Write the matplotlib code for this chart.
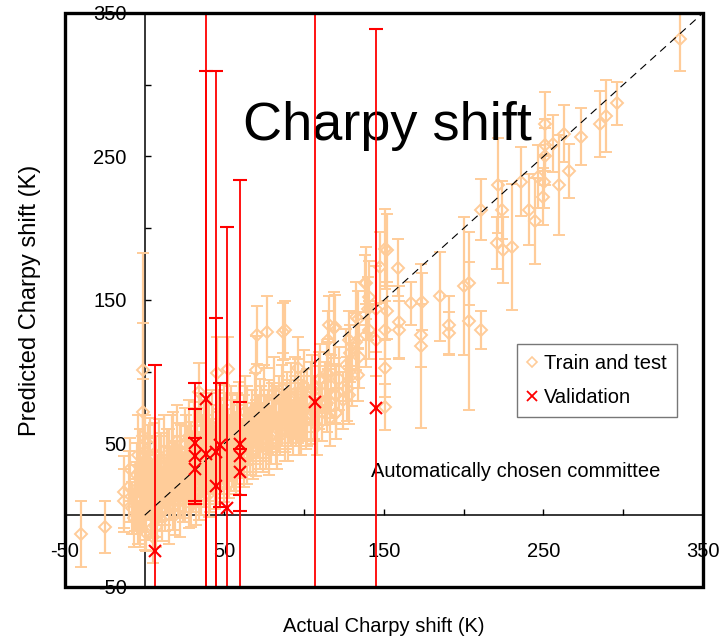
"""
Predicted vs actual Charpy shift, committee model.
"""

import matplotlib.pyplot as plt
from matplotlib.lines import Line2D
from matplotlib.patches import Rectangle

FONT = ['Liberation Sans', 'DejaVu Sans']

PEACH = '#FFCC99'

# train and test points (actual, predicted, error bar half-length), all in K
train_x = [
    -40, -25, -13, -13, -6, -1, -1, -1, 3.6, 34, 45, 52, 69.5, 70.5, 76.6, 87,
    -8, -6, -5, -4, -3, -2, -1, 0, 0, 1, 2, 3, 4, 5, 6, 6, 7, 8, 9, 10,
    11, 12, 12, 13, 14, 15, 16, 17, 18, 18, 19, 20, 21, 22, 23, 24, 25, 25, 26, 27,
    28, 28, 29, 30, 30,
    31, 32, 33, 34, 35, 35, 36, 37, 38, 39, 40, 40, 41, 42, 43, 44, 45, 46, 47, 48,
    49, 50, 50, 51, 52, 53, 54, 55, 56, 57, 58, 59, 60, 60,
    61, 62, 63, 64, 65, 66, 67, 68, 69, 70, 71, 72, 73, 74, 75, 76, 77, 78, 79, 80,
    81, 82, 83, 84, 85, 86, 87, 88, 89, 90, 91, 92, 93, 94, 95,
    96, 97, 98, 99, 100, 101, 102, 104, 105, 106, 108, 109, 110, 111, 113, 114,
    116, 117, 119, 120, 122, 124, 127, 130,
    -10, -9, -7, -5, -4, -3, -2, -1, 0, 1, 2, 3, 4, 5, 6, 7, 8, 9, 10, 11,
    12, 13, 14, 15, 16, 17, 18, 19, 20, 21, 22, 23, 24, 25, 26, 27, 28, 29, 30, 31,
    32, 33, 34, 35, 36, 37, 38, 39, 40, 41, 42, 43, 44, 45, 46, 47, 48, 49, 50, 51,
    52, 53, 54, 55, 56, 57, 58, 59, 62, 64, 66, 68, 70, 72, 74, 76, 78, 80, 82, 84,
    86, 88, 90, 92, 94, 96, 98, 100, 102, 104,
    150.7, 119.8, 119.8, 104, 138.6, 129, 114.5, 128,
    88, 96.3, 109.3, 115, 115, 115.6, 119.3, 118.7, 126, 128, 133.4, 134.4, 132.3,
    132.7, 133.4, 138, 140.3, 139.7, 139, 140.7, 145, 145, 147.4, 150.7, 150.7,
    151.6, 150.7, 152, 159.5, 159.5, 159, 167, 173, 173.4, 174, 185, 191, 191,
    200, 203, 203.5, 210.6, 211, 220.7, 221.7, 224, 224.9, 230, 236, 240.8, 244.8,
    246.4, 249.6, 250.6, 251, 251, 251, 256, 260, 266.3, 263, 273.7, 285.6, 289,
    296, 335.8,
]
train_y = [
    -13, -8, 16, 10, 7, 101, 72, 55, 48, 86, 99, 102, 101, 125.5, 127.8, 128,
    5, 15, 28, -5, 35, 20, 8, 45, -12, 25, 12, 32, 2, 18, 40, 28, -8, 22, 10, 35,
    15, 45, 28, 5, 20, 38, 12, 30, 48, 22, 0, 35, 15, 42, 28, 10, 50, 32, 20, 40,
    5, 28, 45, 18, 36,
    55, 25, 42, 12, 33, 60, 48, 22, 38, 55, 28, 15, 45, 62, 35, 22, 50, 40, 30, 58,
    45, 25, 66, 38, 52, 30, 44, 60, 35, 50, 42, 68, 55, 38,
    47, 62, 72, 40, 55, 48, 65, 58, 75, 45, 62, 52, 68, 58, 80, 50, 65, 72, 56, 62,
    85, 68, 50, 75, 62, 70, 88, 58, 78, 66, 72, 82, 60, 75, 68,
    85, 62, 78, 72, 90, 66, 80, 70, 88, 75, 62, 82, 95, 72, 85, 78,
    68, 90, 84, 71, 95, 80, 88, 98,
    20, 32, -2, 12, 42, 0, 15, 30, 5, -5, 38, 22, 10, -15, 15, 30, 5, 42, 18, 2,
    30, 15, 35, 0, 25, 45, 10, 30, 52, 25, 5, 38, 20, 15, 45, 30, 55, 12, 28, 40,
    15, 50, 28, 20, 40, 55, 30, 45, 60, 22, 38, 52, 40, 28, 62, 45, 35, 52, 40, 60,
    32, 48, 65, 42, 55, 35, 60, 48, 40, 65, 52, 45, 58, 70, 50, 62, 48, 70, 58, 66,
    80, 66, 58, 70, 85, 72, 62, 75, 68, 85,
    75.5, 83.7, 70.9, 69.7, 125.5, 112.8, 98.8, 83.7,
    129, 102.3, 94, 122, 97.6, 132.5, 131.3, 130.4, 104.6, 122, 97.6, 110.4, 120.9,
    137.8, 136.5, 161.6, 129, 144, 162, 152.2, 144, 122, 172.7, 185.3, 129,
    142.5, 102.3, 184.8, 134.8, 129, 172.5, 147.6, 117.8, 125.5, 148.8, 152.7, 132.5, 126.7,
    160, 135.5, 161.6, 129, 213, 189.5, 230, 212.7, 185, 187, 232.5, 213, 205,
    236, 222, 232, 272.7, 258, 250, 259, 230, 240, 266, 263.8, 272.7, 278,
    287, 331.7,
]
train_err = [
    23, 18, 25, 22, 18, 82, 62, 40, 20, 20, 25, 22, 24, 20, 25, 20,
    18, 20, 22, 15, 25, 18, 20, 25, 12, 20, 15, 22, 18, 20, 24, 16, 14, 20, 15, 22,
    18, 25, 20, 16, 18, 22, 15, 20, 24, 18, 14, 20, 16, 22, 18, 15, 25, 20, 18, 22,
    14, 18, 20, 16, 22,
    24, 18, 20, 15, 20, 25, 22, 16, 20, 24, 18, 16, 22, 25, 20, 18, 22, 20, 18, 24,
    20, 16, 25, 20, 22, 18, 20, 24, 18, 22, 20, 25, 22, 18,
    20, 22, 25, 18, 20, 20, 22, 20, 24, 18, 22, 20, 22, 20, 25, 18, 22, 22, 20, 20,
    25, 22, 18, 22, 20, 22, 25, 20, 22, 20, 22, 24, 18, 22, 20,
    24, 20, 22, 20, 25, 20, 22, 18, 24, 22, 20, 22, 24, 20, 22, 20,
    20, 22, 20, 18, 22, 20, 22, 22,
    25, 22, 20, 25, 28, 22, 25, 25, 22, 20, 25, 22, 25, 18, 22, 25, 20, 25, 22, 20,
    25, 22, 25, 20, 22, 25, 20, 22, 25, 22, 20, 25, 22, 20, 25, 22, 25, 20, 22, 25,
    22, 25, 22, 20, 25, 25, 22, 25, 25, 20, 22, 25, 22, 20, 25, 22, 20, 25, 22, 25,
    20, 22, 25, 22, 25, 20, 25, 22, 20, 25, 22, 20, 22, 25, 20, 22, 20, 22, 22, 22,
    25, 22, 20, 22, 25, 22, 20, 22, 20, 22,
    16, 20, 18, 20, 22, 20, 22, 20,
    20, 22, 20, 20, 25, 20, 22, 25, 25, 20, 18, 22, 20,
    25, 20, 20, 20, 22, 25, 25, 30, 25, 25, 28, 20,
    20, 20, 25, 25, 20, 20, 15, 57, 22, 20, 31, 20, 15,
    48, 62, 15, 13, 21, 18, 33, 20, 23, 44, 24, 25, 30,
    22, 20, 18, 22, 18, 20, 20, 35, 19, 20, 20, 23, 25,
    15, 22,
]

# validation points
val_x = [6.5, 31.8, 31.8, 31.8, 38.5, 38.6, 44.6, 44.6, 47, 51.5, 60, 60, 60,
         106.8, 145]
val_y = [-25, 50, 41, 32, 80.7, 42.5, 43.8, 20.2, 49, 4.7, 49.5, 41, 30, 79, 75]
val_err = [130, 42, 33, 22, 300, 267, 266, 117, 43, 196, 184, 38, 16, 300, 264]

diag = [0, 350]
ticks = [-50, 0, 50, 100, 150, 200, 250, 300, 350]
tick_labels = ['-50', '', '50', '', '150', '', '250', '', '350']


def main():
    """
    Draws the chart and saves out.png
    """

    fig = plt.figure(figsize=(7.26, 6.42), dpi=100)
    ax = fig.add_axes([0.0895, 0.0857, 0.8788, 0.8941])

    ax.errorbar(train_x, train_y, yerr=train_err, fmt='D', color=PEACH,
                mfc='none', ms=6, mew=1.4, elinewidth=1.6, capsize=4.5,
                capthick=1.6, zorder=2)

    ax.plot(diag, diag, color='black', lw=0.8, ls=(0, (7, 5)), zorder=3)

    ax.errorbar(val_x, val_y, yerr=val_err, fmt='x', color='red', ms=9,
                mew=1.5, elinewidth=1.3, capsize=5, capthick=1.3, zorder=4)

    ax.set_xlim(-50, 350)
    ax.set_ylim(-50, 350)

    ax.spines['left'].set_position(('data', 0))
    ax.spines['bottom'].set_position(('data', 0))
    ax.spines['top'].set_visible(False)
    ax.spines['right'].set_visible(False)
    for side in ['left', 'bottom']:
        ax.spines[side].set_linewidth(1.1)
        ax.spines[side].set_zorder(1)

    ax.add_patch(Rectangle((0, 0), 1, 1, transform=ax.transAxes, fill=False,
                           lw=2.4, ec='black', clip_on=False, zorder=6))

    ax.set_xticks(ticks, tick_labels)
    ax.set_yticks(ticks, tick_labels)
    ax.tick_params(axis='x', direction='in', length=4, width=1, pad=19,
                   labelsize=14.5, labelfontfamily=FONT)
    ax.tick_params(axis='y', direction='in', length=4, width=1, pad=13,
                   labelsize=14.5, labelfontfamily=FONT)

    ax.text(0.505, 0.779, 'Charpy shift', transform=ax.transAxes,
            ha='center', va='baseline', fontsize=39, family=FONT)
    ax.text(0.48, 0.1916, 'Automatically chosen committee',
            transform=ax.transAxes, ha='left', va='baseline', fontsize=14.5,
            family=FONT)

    handles = [
        Line2D([], [], ls='none', marker='D', ms=5, mfc='none', mew=1.2,
               color=PEACH),
        Line2D([], [], ls='none', marker='x', ms=7, mew=1.3, color='red'),
    ]
    leg = ax.legend(handles, ['Train and test', 'Validation'],
                    loc='upper left', bbox_to_anchor=(0.7085, 0.4233),
                    borderaxespad=0, fancybox=False, handlelength=0.5,
                    handletextpad=0.35, labelspacing=0.75, borderpad=0.5,
                    prop={'family': FONT, 'size': 14.5})
    leg.get_frame().set_edgecolor('#555555')
    leg.get_frame().set_linewidth(1)

    fig.text(0.529, 0.0234, 'Actual Charpy shift (K)', ha='center',
             va='center', fontsize=14.5, family=FONT)
    fig.text(0.0413, 0.5327, 'Predicted Charpy shift (K)', ha='center',
             va='center', rotation=90, fontsize=17, family=FONT)

    fig.savefig('out.png', dpi=100)


if __name__ == '__main__':
    main()
